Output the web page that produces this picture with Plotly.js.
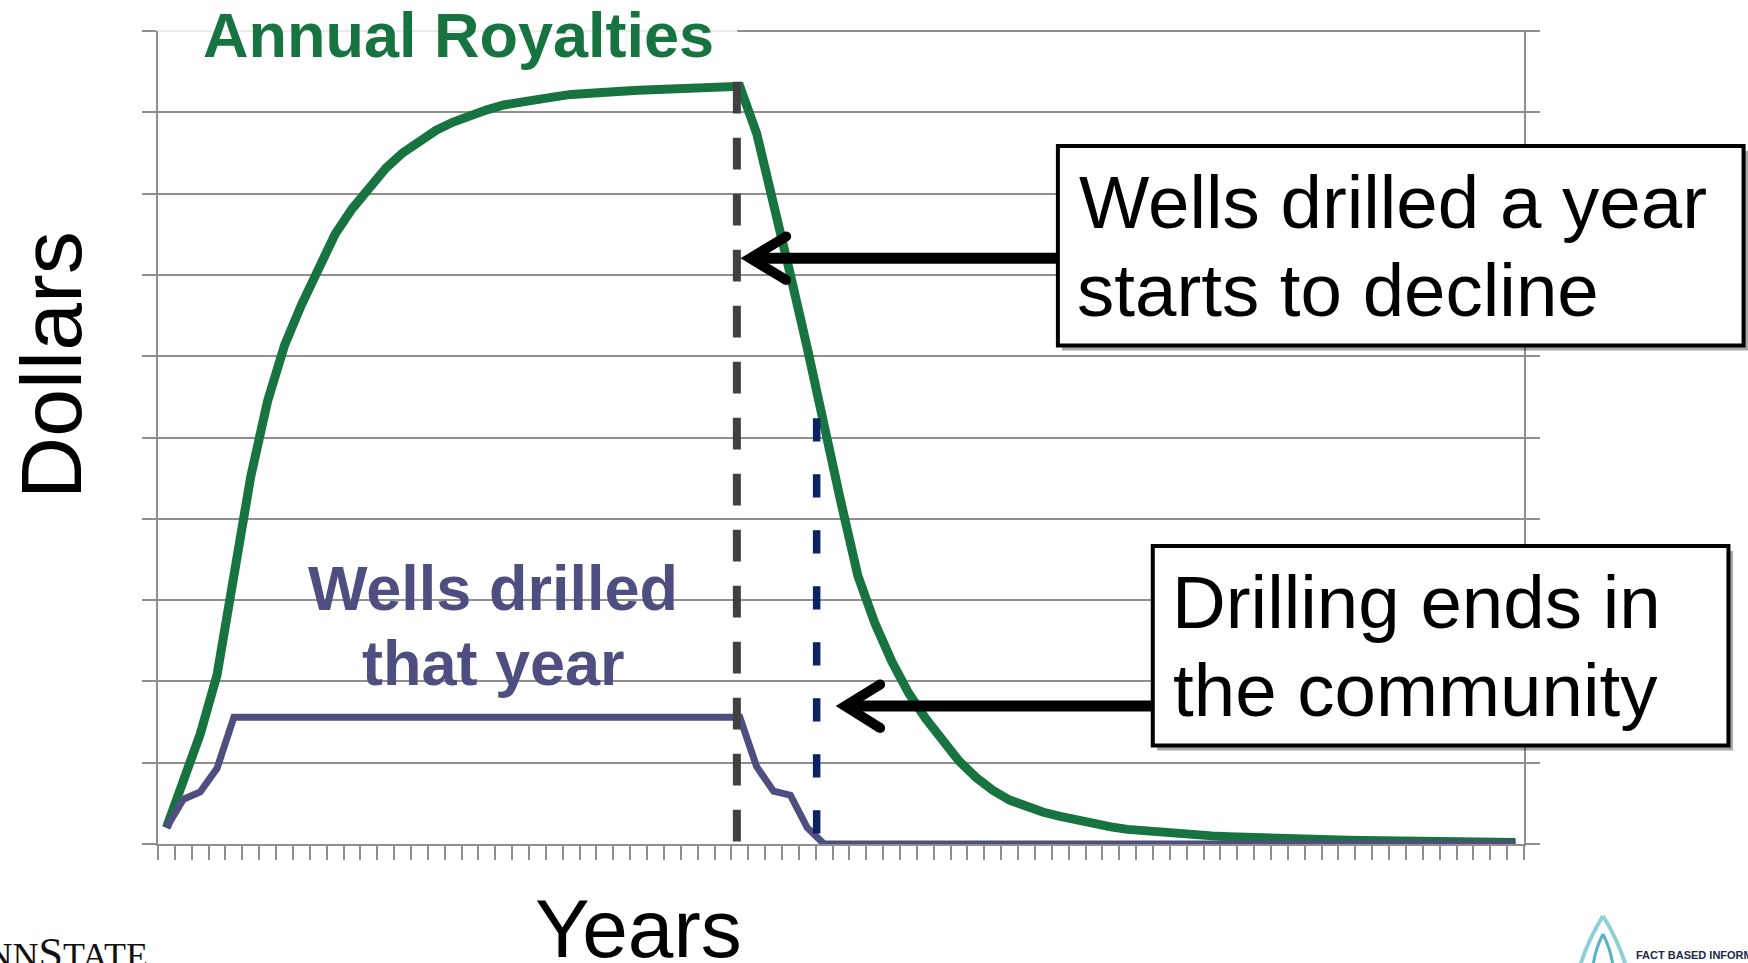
<!DOCTYPE html>
<html>
<head>
<meta charset="utf-8">
<script src="https://cdn.plot.ly/plotly-3.0.1.min.js"></script>
<style>html,body{margin:0;padding:0;background:#fff;overflow:hidden}</style>
</head>
<body>
<div id="chart" style="width:1748px;height:963px"></div>
<script>
// ---- data ----
const years = [1,2,3,4,5,6,7,8,9,10,11,12,13,14,15,16,17,18,19,20,
  21,22,23,24,25,26,27,28,29,30,31,32,33,34,35,36,37,38,39,40,
  41,42,43,44,45,46,47,48,49,50,51,52,53,54,55,56,57,58,59,60,
  61,62,63,64,65,66,67,68,69,70,71,72,73,74,75,76,77,78,79,80,81];

const annualRoyalties = [0.2,0.78,1.35,2.08,3.3,4.52,5.45,6.13,6.63,7.09,
  7.5,7.81,8.08,8.31,8.5,8.65,8.78,8.88,8.96,9.03,
  9.09,9.13,9.16,9.19,9.22,9.24,9.25,9.26,9.27,9.28,
  9.29,9.3,9.3,9.31,9.32,8.74,7.92,7.0,6.1,5.1,
  4.2,3.3,2.72,2.25,1.86,1.55,1.27,1.02,0.82,0.66,
  0.54,0.45,0.39,0.34,0.29,0.25,0.21,0.18,0.16,0.14,
  0.12,0.11,0.1,0.09,0.08,0.07,0.065,0.06,0.055,0.05,
  0.047,0.044,0.041,0.038,0.035,0.032,0.029,0.026,0.023,0.02,0.017];

const wellsDrilled = [0.2,0.55,0.64,0.93,1.56,1.56,1.56,1.56,1.56,1.56,
  1.56,1.56,1.56,1.56,1.56,1.56,1.56,1.56,1.56,1.56,
  1.56,1.56,1.56,1.56,1.56,1.56,1.56,1.56,1.56,1.56,
  1.56,1.56,1.56,1.56,1.56,0.95,0.65,0.6,0.2,0,
  0,0,0,0,0,0,0,0,0,0,
  0,0,0,0,0,0,0,0,0,0,
  0,0,0,0,0,0,0,0,0,0,
  0,0,0,0,0,0,0,0,0,0,0];

const seriesNames = ["Annual Royalties", "Wells drilled that year"];
const xTitle = "Years";
const yTitle = "Dollars";
const note1 = ["Wells drilled a year", "starts to decline"];
const note2 = ["Drilling ends in", "the community"];

// ---- geometry of the page (pixels) ----
const W = 1748, H = 963;
const L = 157.7, R = 1524, T = 31, B = 844;
const PW = R - L, PH = B - T;
const px = X => (X - L) / PW;      // page pixel -> paper x
const py = Y => (B - Y) / PH;      // page pixel -> paper y

const tickPos = years.map(v => v - 0.5).concat([years[years.length - 1] + 0.5]);

const GREEN = '#17733f', PURPLE = '#4e4f80', GRID = '#8f8f8f';
const FONT = 'Liberation Sans, Arial, sans-serif';

const traces = [
  {x: years, y: annualRoyalties, name: seriesNames[0], type: 'scatter', mode: 'lines',
   line: {color: GREEN, width: 9}, hoverinfo: 'skip'},
  {x: years, y: wellsDrilled, name: seriesNames[1], type: 'scatter', mode: 'lines',
   line: {color: PURPLE, width: 7}, hoverinfo: 'skip'}
];

function rect(x0, y0, x1, y1, fill, lineColor, lw, layer) {
  return {type: 'rect', xref: 'paper', yref: 'paper', x0: px(x0), x1: px(x1), y0: py(y0), y1: py(y1),
    fillcolor: fill, line: {color: lineColor || 'rgba(0,0,0,0)', width: lw || 0}, layer: layer || 'above'};
}
function seg(x0, y0, x1, y1, color, width, dash, layer) {
  return {type: 'line', xref: 'paper', yref: 'paper', x0: px(x0), y0: py(y0), x1: px(x1), y1: py(y1),
    line: {color: color, width: width, dash: dash || 'solid'}, layer: layer || 'above'};
}
function path(pts, color, width) {
  let d = pts.map((p, i) => (i ? 'L' : 'M') + px(p[0]).toFixed(5) + ',' + py(p[1]).toFixed(5)).join(' ');
  return {type: 'path', xref: 'paper', yref: 'paper', path: d, line: {color: color, width: width}, layer: 'above'};
}
function dot(X, Y, r, color) {
  return {type: 'circle', xref: 'paper', yref: 'paper', x0: px(X - r), x1: px(X + r), y0: py(Y + r), y1: py(Y - r),
    fillcolor: color, line: {width: 0}, layer: 'above'};
}

const shapes = [
  // top grid line (explicit, so the label box can soften it)
  seg(143, 31, 1538, 31, GRID, 2, 'solid', 'below'),
  // white label backgrounds (between grid and traces)
  rect(155, 22, 737, 82, 'rgba(255,255,255,0.82)', null, 0, 'between'),
  rect(277, 548, 710, 700, 'rgba(255,255,255,0.82)', null, 0, 'between'),
  // dashed verticals
  seg(736.7, 81.7, 736.7, 843, '#404040', 8, '31.7px,24.3px'),
  seg(816.5, 418.3, 816.5, 844, '#0c2262', 7.5, '23.3px,32.7px'),
  // arrows
  seg(750, 258.3, 1058, 258.3, '#000', 11),
  path([[786, 236.5], [750, 258.3], [786, 280]], '#000', 10),
  dot(786, 236.5, 5, '#000'), dot(786, 280, 5, '#000'),
  seg(845, 706, 1153, 706, '#000', 11),
  path([[880, 684.5], [845, 706], [880, 728]], '#000', 10),
  dot(880, 684.5, 5, '#000'), dot(880, 728, 5, '#000'),
  // callout boxes with shadows
  rect(1062, 151, 1749, 350.5, 'rgba(0,0,0,0.35)'),
  rect(1057.8, 146, 1743.6, 345.5, '#ffffff', '#000', 4),
  rect(1157, 551, 1733, 750.5, 'rgba(0,0,0,0.35)'),
  rect(1152.7, 546, 1728.5, 745.5, '#ffffff', '#000', 4),
  // drop logo, bottom right
  {type: 'path', xref: 'paper', yref: 'paper', layer: 'above',
   path: 'M' + px(1603) + ',' + py(916) + ' Q' + px(1588) + ',' + py(940) + ' ' + px(1580) + ',' + py(966) +
         ' M' + px(1603) + ',' + py(916) + ' Q' + px(1618) + ',' + py(940) + ' ' + px(1626) + ',' + py(966),
   line: {color: '#8fd0d6', width: 4}},
  {type: 'path', xref: 'paper', yref: 'paper', layer: 'above',
   path: 'M' + px(1603) + ',' + py(934) + ' Q' + px(1595) + ',' + py(950) + ' ' + px(1593) + ',' + py(966) +
         ' M' + px(1603) + ',' + py(934) + ' Q' + px(1611) + ',' + py(950) + ' ' + px(1613) + ',' + py(966),
   line: {color: '#56b3c0', width: 3}}
];

// baseline -> centre of the text box for Liberation Sans
const mid = (baseline, size) => baseline - 0.3465 * size;

function txt(text, X, Y, size, color, opts) {
  opts = opts || {};
  return Object.assign({
    text: text, xref: 'paper', yref: 'paper', x: px(X), y: py(Y),
    xanchor: 'center', yanchor: 'middle', showarrow: false,
    font: {family: FONT, size: size, color: color, weight: opts.bold ? 700 : 400}
  }, opts.extra || {});
}

const NS = 74.5;
const annotations = [
  txt(seriesNames[0], 458, mid(57.3, 63), 63, GREEN, {bold: true}),
  txt('Wells drilled', 492.5, mid(610, 63), 63, PURPLE, {bold: true}),
  txt('that year', 493, mid(685, 63), 63, PURPLE, {bold: true}),
  txt(note1[0], 1076.5, mid(228.3, NS), NS, '#000', {extra: {xanchor: 'left'}}),
  txt(note1[1], 1074.5, mid(316.7, NS), NS, '#000', {extra: {xanchor: 'left'}}),
  txt(note2[0], 1169.6, mid(628.3, NS), NS, '#000', {extra: {xanchor: 'left'}}),
  txt(note2[1], 1171, mid(716.7, NS), NS, '#000', {extra: {xanchor: 'left'}}),
  txt(xTitle, 638, mid(956.7, 82), 82, '#000'),
  txt(yTitle, 50, 364.6, 86, '#000', {extra: {textangle: -90}}),
  // logos (text parts)
  txt('P<span style="font-size:36px">ENN</span>S<span style="font-size:36px">TATE</span>', 150, 953, 44, '#111',
      {extra: {xanchor: 'right', font: {family: 'Liberation Serif, serif', size: 44, color: '#111'}}}),
  txt('FACT BASED INFORMATION', 1634, 955, 11, '#1b2a4a', {bold: true, extra: {xanchor: 'left'}})
];

const axisCommon = {showticklabels: false, zeroline: false, showline: true, linecolor: GRID, linewidth: 2,
  ticks: 'outside', ticklen: 14, tickwidth: 2, tickcolor: GRID, fixedrange: true};

const layout = {
  width: W, height: H,
  margin: {l: L, r: W - R, t: T, b: H - B, pad: 0},
  paper_bgcolor: '#ffffff', plot_bgcolor: '#ffffff',
  showlegend: false,
  xaxis: Object.assign({}, axisCommon, {range: [0.5, 81.5], showgrid: false,
    tickmode: 'array', tickvals: tickPos}),
  yaxis: Object.assign({}, axisCommon, {range: [0, 10], tick0: 0, dtick: 1, showgrid: true,
    gridcolor: GRID, gridwidth: 2, mirror: 'ticks'}),
  shapes: shapes,
  annotations: annotations
};

Plotly.newPlot('chart', traces, layout, {displayModeBar: false, staticPlot: true});
</script>
</body>
</html>
